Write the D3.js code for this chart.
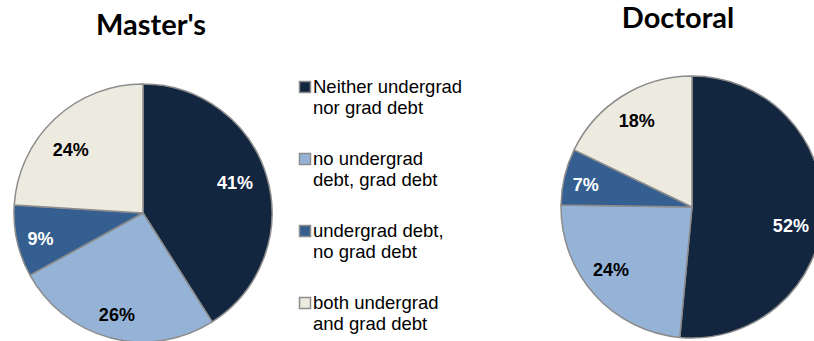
<!DOCTYPE html>
<html>
<head>
<meta charset="utf-8">
<script src="https://cdn.jsdelivr.net/npm/d3@7"></script>
<style>
  html, body { margin: 0; padding: 0; background: #fff; }
  svg { display: block; }
</style>
</head>
<body>
<svg id="chart" width="814" height="341"></svg>
<script>
// Debt categories, in slice order (clockwise from 12 o'clock)
const categories = [
  "Neither undergrad nor grad debt",
  "no undergrad debt, grad debt",
  "undergrad debt, no grad debt",
  "both undergrad and grad debt"
];
const legendLines = [
  ["Neither undergrad", "nor grad debt"],
  ["no undergrad", "debt, grad debt"],
  ["undergrad debt,", "no grad debt"],
  ["both undergrad", "and grad debt"]
];
const mastersValues = [41, 26, 9, 24];
const doctoralValues = [52, 24, 7, 18];
const colors = ["#13263f", "#95b3d7", "#365f91", "#edebe0"];
const labelColors = ["#ffffff", "#000000", "#ffffff", "#000000"];

const svg = d3.select("#chart");
const color = d3.scaleOrdinal().domain(categories).range(colors);
const labelColor = d3.scaleOrdinal().domain(categories).range(labelColors);

const pie = d3.pie().sort(null).value(d => d.value);

// Draws one pie; `nudge` shifts each value label off its slice centroid (px)
function drawPie(title, values, cx, cy, r, labelR, titleX, titleY, nudge) {
  const data = categories.map((c, i) => ({ category: c, value: values[i] }));
  const arcs = pie(data);
  const arc = d3.arc().innerRadius(0).outerRadius(r);
  const labelArc = d3.arc().innerRadius(labelR).outerRadius(labelR);

  const g = svg.append("g").attr("transform", `translate(${cx},${cy})`);
  g.selectAll("path")
    .data(arcs)
    .join("path")
    .attr("d", arc)
    .attr("fill", d => color(d.data.category))
    .attr("stroke", "#8c8c8c")
    .attr("stroke-width", 1.5)
    .attr("stroke-linejoin", "round");

  g.selectAll("text.val")
    .data(arcs)
    .join("text")
    .attr("class", "val")
    .attr("transform", (d, i) => {
      const [x, y] = labelArc.centroid(d);
      return `translate(${x + nudge[i][0]},${y + nudge[i][1]})`;
    })
    .attr("text-anchor", "middle")
    .attr("dy", "0.35em")
    .attr("font-family", "'Liberation Sans', Arial, sans-serif")
    .attr("font-weight", "bold")
    .attr("font-size", 18)
    .attr("fill", d => labelColor(d.data.category))
    .text(d => d.data.value + "%");

  svg.append("text")
    .attr("x", titleX)
    .attr("y", titleY)
    .attr("text-anchor", "middle")
    .attr("font-family", "Lato, 'Open Sans', sans-serif")
    .attr("font-weight", "bold")
    .attr("font-size", 29)
    .attr("fill", "#000")
    .text(title);
}

drawPie("Master's", mastersValues, 143, 213, 129, 101, 151, 35,
  [[-5, -2], [-1, 4], [-4, 4], [-3, 10]]);
drawPie("Doctoral", doctoralValues, 692, 207, 131, 102, 678, 28,
  [[-3, 14], [-5, -5], [-7, 1], [-1, 0]]);

// Legend between the two pies
const legend = svg.append("g").attr("transform", "translate(299,0)");
const items = legend.selectAll("g.item")
  .data(categories)
  .join("g")
  .attr("class", "item")
  .attr("transform", (d, i) => `translate(0,${93 + i * 72})`);

items.append("rect")
  .attr("x", 0.5)
  .attr("y", -11.5)
  .attr("width", 11)
  .attr("height", 11)
  .attr("fill", d => color(d))
  .attr("stroke", "#8c8c8c")
  .attr("stroke-width", 1.5);

items.each(function(d, i) {
  const t = d3.select(this).append("text")
    .attr("x", 14)
    .attr("y", 0)
    .attr("font-family", "'Liberation Sans', Arial, sans-serif")
    .attr("font-size", 18.5)
    .attr("fill", "#000");
  legendLines[i].forEach((line, j) => {
    t.append("tspan").attr("x", 14).attr("dy", j === 0 ? 0 : 21).text(line);
  });
});
</script>
</body>
</html>
